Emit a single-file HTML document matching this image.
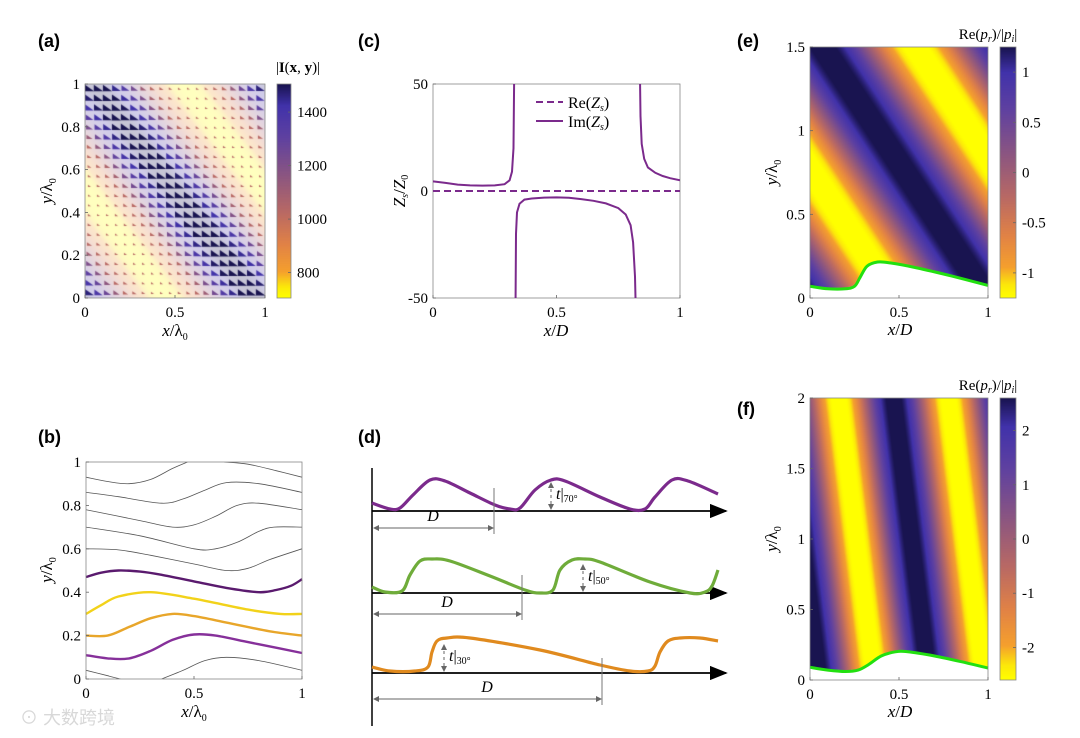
<!DOCTYPE html>
<html><head><meta charset="utf-8">
<style>
html,body{margin:0;padding:0;background:#fff;}
#root{position:relative;width:1080px;height:738px;overflow:hidden;font-family:"Liberation Serif",serif;}
canvas{position:absolute;}
svg{position:absolute;left:0;top:0;}
</style></head>
<body>
<div id="root">
<canvas id="ca" width="180" height="214" style="left:85px;top:84px"></canvas>
<canvas id="cba" width="14" height="214" style="left:277px;top:84px"></canvas>
<canvas id="ce" width="178" height="251" style="left:810px;top:47px"></canvas>
<canvas id="cbe" width="16" height="251" style="left:1000px;top:47px"></canvas>
<canvas id="cf" width="178" height="282" style="left:810px;top:398px"></canvas>
<canvas id="cbf" width="16" height="282" style="left:1000px;top:398px"></canvas>
<svg id="s" width="1080" height="738"></svg>
</div>
<script>
// ---------- data ----------
const aColorTicks=[800,1000,1200,1400];
const aRange=[705,1505];
const eColorTicks=[1,0.5,0,-0.5,-1];
const eColorTickLabels=['1','0.5','0','-0.5','-1'];
const eRange=[-1.25,1.25];
const fColorTicks=[2,1,0,-1,-2];
const fRange=[-2.6,2.6];
const unitTicks=[0,0.5,1];
const aYTicks=[0,0.2,0.4,0.6,0.8,1];
const eYTicks=[0,0.5,1,1.5];
const fYTicks=[0,0.5,1,1.5,2];
const cYTicks=[-50,0,50];
// Im(Zs) branches
const imX1=[0,0.05,0.1,0.15,0.2,0.25,0.29,0.31,0.32,0.326,0.33];
const imY1=[4.5,3.8,3,2.6,2.5,2.6,3.2,5,9,20,70];
const imX2=[0.333,0.336,0.34,0.35,0.37,0.4,0.45,0.5,0.55,0.6,0.65,0.7,0.75,0.78,0.8,0.81,0.818,0.824];
const imY2=[-70,-20,-10,-6,-4,-3.5,-3.1,-3,-3.2,-3.8,-4.6,-5.8,-8,-11,-16,-24,-40,-70];
const imX3=[0.836,0.84,0.845,0.855,0.87,0.9,0.93,0.96,1];
const imY3=[70,35,22,15,11,8.5,7,6,5];
// streamlines panel b
const bGray=[
 [[0,0.93],[0.1,0.91],[0.2,0.9],[0.3,0.92],[0.4,0.97],[0.47,1.0]],
 [[0.64,1.0],[0.75,0.99],[0.88,0.96],[1,0.93]],
 [[0,0.86],[0.15,0.84],[0.35,0.81],[0.45,0.83],[0.55,0.87],[0.65,0.905],[0.8,0.9],[1,0.86]],
 [[0,0.78],[0.25,0.73],[0.4,0.7],[0.5,0.71],[0.6,0.75],[0.7,0.8],[0.8,0.81],[1,0.78]],
 [[0,0.7],[0.25,0.66],[0.5,0.6],[0.6,0.6],[0.7,0.63],[0.8,0.68],[0.87,0.7],[1,0.7]],
 [[0,0.6],[0.15,0.595],[0.3,0.57],[0.5,0.53],[0.65,0.5],[0.75,0.51],[0.85,0.55],[1,0.6]],
 [[0,0.04],[0.1,0.015],[0.16,0]],
 [[0.35,0],[0.45,0.04],[0.55,0.085],[0.65,0.1],[0.8,0.085],[1,0.04]]
];
const bPurple1=[[0,0.47],[0.07,0.49],[0.15,0.5],[0.25,0.495],[0.35,0.48],[0.5,0.45],[0.65,0.42],[0.8,0.4],[0.88,0.41],[0.95,0.43],[1,0.46]];
const bYellow=[[0,0.3],[0.07,0.34],[0.15,0.38],[0.3,0.4],[0.5,0.37],[0.75,0.32],[0.9,0.3],[1,0.3]];
const bOrange=[[0,0.2],[0.1,0.2],[0.2,0.24],[0.3,0.28],[0.4,0.3],[0.5,0.29],[0.65,0.26],[0.85,0.22],[1,0.2]];
const bPurple2=[[0,0.11],[0.1,0.095],[0.2,0.095],[0.3,0.13],[0.4,0.18],[0.5,0.205],[0.6,0.2],[0.75,0.17],[0.9,0.14],[1,0.12]];
// boundaries (e),(f)
const eBoundX=[0,0.1,0.2,0.25,0.28,0.32,0.38,0.45,0.6,0.8,1];
const eBoundY=[0.07,0.055,0.055,0.07,0.12,0.19,0.215,0.21,0.18,0.13,0.075];
const fBoundX=[0,0.1,0.2,0.27,0.33,0.4,0.48,0.55,0.7,0.85,1];
const fBoundY=[0.09,0.07,0.06,0.07,0.11,0.17,0.2,0.2,0.17,0.13,0.085];

// ---------- helpers ----------
const NS='http://www.w3.org/2000/svg';
const S=document.getElementById('s');
function lin(d0,d1,r0,r1){return v=>r0+(v-d0)/(d1-d0)*(r1-r0);}
const stops=[[0,[255,255,0]],[0.05,[252,232,10]],[0.12,[245,160,45]],[0.25,[225,130,70]],[0.4,[185,105,100]],[0.55,[145,88,125]],[0.75,[95,65,160]],[0.9,[65,50,170]],[1,[25,20,80]]];
function cmap(t){t=Math.max(0,Math.min(1,t));for(let i=1;i<stops.length;i++){if(t<=stops[i][0]){const a=stops[i-1],b=stops[i];const u=(t-a[0])/(b[0]-a[0]);return a[1].map((c,k)=>Math.round(c+(b[1][k]-c)*u));}}return stops[stops.length-1][1];}
function el(tag,attrs,parent){const e=document.createElementNS(NS,tag);for(const k in attrs)e.setAttribute(k,attrs[k]);(parent||S).appendChild(e);return e;}
function txt(x,y,str,size,anchor,extra){const t=el('text',Object.assign({x:x,y:y,'font-size':size,'text-anchor':anchor||'middle','font-family':'Liberation Serif, serif'},extra||{}));t.innerHTML=str;return t;}
function colorbar(id){const c=document.getElementById(id),g=c.getContext('2d');for(let y=0;y<c.height;y++){const t=1-y/(c.height-1);const col=cmap(t);g.fillStyle=`rgb(${col})`;g.fillRect(0,y,c.width,1);}}
function pathD(pts,sx,sy){return pts.map((p,i)=>(i?'L':'M')+sx(p[0]).toFixed(1)+','+sy(p[1]).toFixed(1)).join('');}
function smooth(pts,sx,sy){const P=pts.map(p=>[sx(p[0]),sy(p[1])]);let d='M'+P[0][0]+','+P[0][1];for(let i=0;i<P.length-1;i++){const p0=P[Math.max(0,i-1)],p1=P[i],p2=P[i+1],p3=P[Math.min(P.length-1,i+2)];const c1=[p1[0]+(p2[0]-p0[0])/6,p1[1]+(p2[1]-p0[1])/6],c2=[p2[0]-(p3[0]-p1[0])/6,p2[1]-(p3[1]-p1[1])/6];d+=`C${c1[0].toFixed(1)},${c1[1].toFixed(1)} ${c2[0].toFixed(1)},${c2[1].toFixed(1)} ${p2[0].toFixed(1)},${p2[1].toFixed(1)}`;}return d;}
function interp(xs,ys,x){if(x<=xs[0])return ys[0];for(let i=1;i<xs.length;i++){if(x<=xs[i]){const u=(x-xs[i-1])/(xs[i]-xs[i-1]);return ys[i-1]+u*(ys[i]-ys[i-1]);}}return ys[ys.length-1];}
function box(x0,y0,x1,y1,name){const r=el('rect',{x:x0,y:y0,width:x1-x0,height:y1-y0,fill:'none',stroke:'#888','stroke-width':0.8});}
function xTicks(ticks,sx,yb,labels){ticks.forEach((v,i)=>{el('line',{x1:sx(v),x2:sx(v),y1:yb,y2:yb-3,stroke:'#666','stroke-width':0.8});const t=txt(sx(v),yb+19,labels?labels[i]:String(v),15);});}
function yTicks(ticks,sy,xl,labels){ticks.forEach((v,i)=>{el('line',{x1:xl,x2:xl+3,y1:sy(v),y2:sy(v),stroke:'#666','stroke-width':0.8});const t=txt(xl-5,sy(v)+5,labels?labels[i]:String(v),15,'end');});}
function cbTicks(ticks,sy,xr,labels){ticks.forEach((v,i)=>{el('line',{x1:xr-3,x2:xr,y1:sy(v),y2:sy(v),stroke:'#666','stroke-width':0.8});const t=txt(xr+6,sy(v)+5,labels?labels[i]:String(v),15,'start');});}
const lam='<tspan font-style="normal">/λ</tspan><tspan font-size="10" dy="4">0</tspan>';
function ylabel(x,y,main){const t=el('text',{x:0,y:0,'font-size':17,'text-anchor':'middle','font-family':'Liberation Serif, serif',transform:`translate(${x},${y}) rotate(-90)`});t.innerHTML=main;}
function plabel(x,y,s){const t=el('text',{x:x,y:y,'font-size':18,'font-weight':'bold','font-family':'Liberation Sans, sans-serif'});t.textContent=s;}

// ---------- panel a ----------
(function(){
 const c=document.getElementById('ca'),g=c.getContext('2d');
 const I=(x,y)=>1100+400*Math.cos(2*Math.PI*(x+0.9*y-0.95));
 const tn=v=>(v-aRange[0])/(aRange[1]-aRange[0]);
 const img=g.createImageData(180,214);
 for(let py=0;py<214;py++)for(let px=0;px<180;px++){const col=cmap(tn(I(px/179,1-py/213)));const k=(py*180+px)*4;for(let j=0;j<3;j++)img.data[k+j]=Math.round(col[j]*0.25+255*0.75);img.data[k+3]=255;}
 g.putImageData(img,0,0);
 const nx=20,ny=22;
 for(let i=0;i<nx;i++)for(let j=0;j<ny;j++){const x=(i+0.5)/nx,y=(j+0.5)/ny;const v=I(x,y);const t=tn(v);const s=1.5+3.2*t;const cx=x*180,cy=(1-y)*214;const col=cmap(Math.max(0.4,Math.min(1,t*1.05)));g.fillStyle=`rgb(${col})`;g.beginPath();g.moveTo(cx-s,cy-s*0.9);g.lineTo(cx+s,cy+s*0.5);g.lineTo(cx-s,cy+s*0.5);g.closePath();g.fill();}
 colorbar('cba');
 const sx=lin(0,1,85,265),sy=lin(0,1,298,84);
 box(85,84,265,298,'panel-a-axes');box(277,84,291,298,'panel-a-colorbar-frame');
 xTicks(unitTicks,sx,298);yTicks(aYTicks,sy,85);
 cbTicks(aColorTicks,lin(aRange[0],aRange[1],298,84),291);
 let t=txt(175,336,'<tspan font-style="italic">x</tspan>'+lam,17);
 ylabel(52,191,'<tspan font-style="italic">y</tspan>'+lam);
 t=txt(298,72,'|<tspan font-weight="bold">I</tspan>(<tspan font-weight="bold">x</tspan>, <tspan font-weight="bold">y</tspan>)|',15);
 plabel(38,47,'(a)');
})();

// ---------- panel c ----------
(function(){
 const sx=lin(0,1,433,680),sy=lin(-50,50,298,84);
 el('clipPath',{id:'clipc'});const cp=S.lastChild;el('rect',{x:433,y:84,width:247,height:214},cp);
 box(433,84,680,298,'panel-c-axes');
 xTicks(unitTicks,sx,298);yTicks(cYTicks,sy,433);
 let l=el('line',{x1:sx(0),x2:sx(1),y1:sy(0),y2:sy(0),stroke:'#7b2a8c','stroke-width':2,'stroke-dasharray':'7,4'});
 [[imX1,imY1],[imX2,imY2],[imX3,imY3]].forEach(b=>{const pts=b[0].map((x,k)=>[x,b[1][k]]);const p=el('path',{d:pathD(pts,sx,sy),fill:'none',stroke:'#7b2a8c','stroke-width':2,'clip-path':'url(#clipc)'});});
 el('line',{x1:536,x2:563,y1:102,y2:102,stroke:'#7b2a8c','stroke-width':2,'stroke-dasharray':'7,4'});
 el('line',{x1:536,x2:563,y1:121,y2:121,stroke:'#7b2a8c','stroke-width':2});
 let t=txt(568,108,'Re(<tspan font-style="italic">Z<tspan font-size="10" dy="3">s</tspan></tspan><tspan dy="-3">)</tspan>',16,'start');
 t=txt(568,127,'Im(<tspan font-style="italic">Z<tspan font-size="10" dy="3">s</tspan></tspan><tspan dy="-3">)</tspan>',16,'start');
 t=txt(556,336,'<tspan font-style="italic">x</tspan>/<tspan font-style="italic">D</tspan>',17);
 ylabel(405,191,'<tspan font-style="italic">Z<tspan font-size="10" dy="3">s</tspan></tspan><tspan dy="-3">/</tspan><tspan font-style="italic">Z</tspan><tspan font-size="10" dy="3">0</tspan>');
 plabel(358,47,'(c)');
})();

// ---------- panels e,f ----------
function stripePanel(id,cbid,range,ymax,kx,ky,c0,period,amp,bx,by,x0,y0,yt,ct,ctl,name){
 const c=document.getElementById(id),g=c.getContext('2d'),W=c.width,H=c.height;
 const img=g.createImageData(W,H);
 const tn=v=>(v-range[0])/(range[1]-range[0]);
 for(let py=0;py<H;py++)for(let px=0;px<W;px++){const x=px/(W-1),y=(1-py/(H-1))*ymax;const cc=kx*x+ky*y;let v=amp*Math.cos(2*Math.PI*(cc-c0)/period);const k=(py*W+px)*4;let col;if(y<interp(bx,by,x))col=[255,255,255];else col=cmap(tn(v));img.data[k]=col[0];img.data[k+1]=col[1];img.data[k+2]=col[2];img.data[k+3]=255;}
 g.putImageData(img,0,0);
 colorbar(cbid);
 const sx=lin(0,1,x0,x0+W),sy=lin(0,ymax,y0+H,y0);
 const p=el('path',{d:smooth(bx.map((x,i)=>[x,by[i]]),sx,sy),fill:'none',stroke:'#22e010','stroke-width':3});
 box(x0,y0,x0+W,y0+H,name+'-axes');box(1000,y0,1016,y0+H,name+'-colorbar-frame');
 xTicks(unitTicks,sx,y0+H);yTicks(yt,sy,x0);
 cbTicks(ct,lin(range[0],range[1],y0+H,y0),1016,ctl);
 let t=txt(900,y0+H+37,'<tspan font-style="italic">x</tspan>/<tspan font-style="italic">D</tspan>',17);
 ylabel(777,y0+H/2,'<tspan font-style="italic">y</tspan>'+lam);
 t=txt(988,y0-8,'Re(<tspan font-style="italic">p<tspan font-size="10" dy="3">r</tspan></tspan><tspan dy="-3">)/|</tspan><tspan font-style="italic">p<tspan font-size="10" dy="3">i</tspan></tspan><tspan dy="-3">|</tspan>',15);
}
stripePanel('ce','cbe',eRange,1.5,1,0.62,1.0,1.05,1.25*1.1,eBoundX,eBoundY,810,47,eYTicks,eColorTicks,eColorTickLabels,'panel-e');
stripePanel('cf','cbf',fRange,2,1,0.1,0.67,0.62,2.6*1.1,fBoundX,fBoundY,810,398,fYTicks,fColorTicks,null,'panel-f');
plabel(737,47,'(e)');plabel(737,415,'(f)');

// ---------- panel b ----------
(function(){
 const sx=lin(0,1,86,302),sy=lin(0,1,679,462);
 el('clipPath',{id:'clipb'});const cp=S.lastChild;el('rect',{x:86,y:462,width:216,height:217},cp);
 bGray.forEach(l=>{const p=el('path',{d:smooth(l,sx,sy),fill:'none',stroke:'#555','stroke-width':0.8,'clip-path':'url(#clipb)'});});
 [[bPurple1,'#5a1a6e','streamline-purple-upper'],[bYellow,'#f2d21a','streamline-yellow'],[bOrange,'#e8a62a','streamline-orange'],[bPurple2,'#86309a','streamline-purple-lower']].forEach(a=>{const p=el('path',{d:smooth(a[0],sx,sy),fill:'none',stroke:a[1],'stroke-width':2.4});});
 box(86,462,302,679,'panel-b-axes');
 xTicks(unitTicks,sx,679);yTicks(aYTicks,sy,86);
 let t=txt(194,717,'<tspan font-style="italic">x</tspan>'+lam,17);
 ylabel(52,570,'<tspan font-style="italic">y</tspan>'+lam);
 plabel(38,443,'(b)');
})();

// ---------- panel d (schematic) ----------
(function(){
 plabel(358,443,'(d)');
 el('defs',{}).innerHTML='<marker id="ah" markerWidth="10" markerHeight="8" refX="9" refY="4" orient="auto"><path d="M0,0L10,4L0,8z" fill="#000"/></marker><marker id="gh" markerWidth="6" markerHeight="6" refX="5" refY="3" orient="auto-start-reverse"><path d="M0,0L6,3L0,6z" fill="#666"/></marker>';
 el('line',{x1:372,x2:372,y1:468,y2:726,stroke:'#000','stroke-width':1.5});
 const rows=[
  {base:511,col:'#7b2a8c',pts:[[372,503],[390,509],[400,508],[413,495],[430,480],[445,481],[470,493],[495,505],[510,509],[520,508],[535,490],[551,480],[565,481],[600,497],[630,509],[645,509],[655,497],[672,480],[688,481],[718,494]],dx:494,dy1:488,dy2:534,ay:528,tx:551,tt:'70°',name:'profile-70'},
  {base:593,col:'#6fac3a',pts:[[372,587],[385,592],[402,591],[410,575],[420,561],[432,559],[450,561],[490,576],[525,590],[540,593],[553,590],[560,570],[572,560],[585,559],[600,562],[650,582],[690,593],[705,592],[712,586],[718,570]],dx:522,dy1:575,dy2:620,ay:614,tx:583,tt:'50°',name:'profile-50'},
  {base:673,col:'#e08a1e',pts:[[372,667],[390,671],[415,671],[428,667],[432,652],[437,641],[447,638],[470,638],[540,650],[600,665],[630,671],[648,671],[655,666],[660,652],[668,641],[680,638],[700,638],[718,641]],dx:602,dy1:658,dy2:705,ay:699,tx:444,tt:'30°',name:'profile-30'}
 ];
 rows.forEach(r=>{
  let l=el('line',{x1:372,x2:726,y1:r.base,y2:r.base,stroke:'#000','stroke-width':1.8,'marker-end':'url(#ah)'});
  const p=el('path',{d:smooth(r.pts,x=>x,y=>y),fill:'none',stroke:r.col,'stroke-width':3.2});
  el('line',{x1:r.dx,x2:r.dx,y1:r.dy1,y2:r.dy2,stroke:'#777','stroke-width':1});
  el('line',{x1:374,x2:r.dx-1,y1:r.ay,y2:r.ay,stroke:'#666','stroke-width':1,'marker-start':'url(#gh)','marker-end':'url(#gh)'});
  let t=txt((372+r.dx)/2,r.ay-7,'<tspan font-style="italic">D</tspan>',16);
  const top=r.base-30;
  el('line',{x1:r.tx,x2:r.tx,y1:top+2,y2:r.base-2,stroke:'#666','stroke-width':1,'stroke-dasharray':'3,3','marker-start':'url(#gh)','marker-end':'url(#gh)'});
  t=txt(r.tx+5,r.base-12,'<tspan font-style="italic">t</tspan>|<tspan font-size="10" dy="3">'+r.tt+'</tspan>',16,'start');
 });
})();
const wm=txt(20,724,'⊙ 大数跨境',18,'start',{fill:'#d8d8d8','font-family':'Liberation Sans, Noto Sans CJK SC, sans-serif'});


</script>
</body></html>
